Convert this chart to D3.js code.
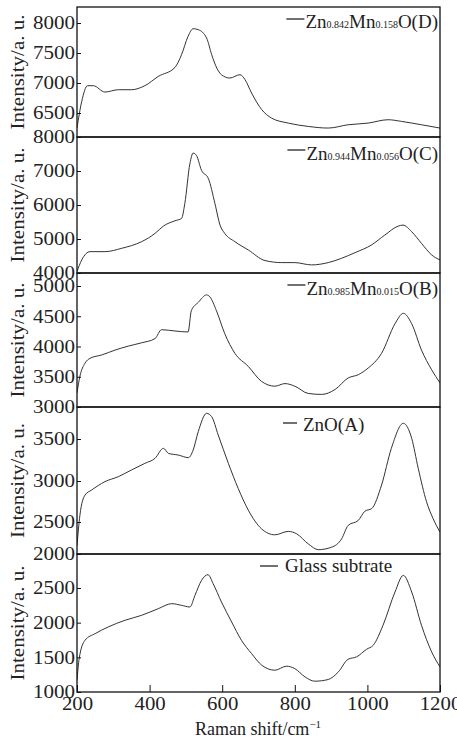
<!DOCTYPE html>
<html>
<head>
<meta charset="utf-8">
<script src="https://cdn.jsdelivr.net/npm/d3@7"></script>
<style>
  body { margin: 0; background: #fff; }
</style>
</head>
<body>
<svg id="chart" width="457" height="743"></svg>
<script>
// Raman shift (cm-1) and intensity (a.u.)
const xD = [200,213,229,245,277,314,350,387,424,470,488,506,520,534,557,571,585,598,621,649,663,681,709,736,782,837,892,947,1002,1057,1094,1149,1200];
const yD = [6249,6693,6955,6955,6849,6888,6888,6955,7110,7260,7472,7778,7905,7889,7750,7472,7250,7138,7083,7138,7055,6832,6555,6415,6332,6276,6249,6304,6332,6388,6360,6304,6249];

const xC = [200,213,236,277,323,378,415,438,470,488,497,511,520,529,543,562,580,594,607,635,672,718,764,800,846,892,929,966,1011,1048,1085,1098,1122,1149,1177,1200];
const yC = [4043,4384,4628,4628,4726,4921,5165,5380,5536,5604,6043,7215,7527,7459,7020,6776,6043,5409,5165,4921,4677,4365,4306,4306,4238,4306,4433,4599,4823,5116,5380,5409,5214,4872,4531,4384];

const xB = [200,208,222,236,268,305,341,378,415,433,470,506,515,534,557,566,584,607,635,672,708,745,773,800,837,874,911,947,975,1002,1039,1076,1099,1122,1149,1177,1200];
const yB = [3235,3507,3724,3805,3860,3941,4006,4061,4131,4278,4256,4240,4593,4729,4853,4821,4593,4213,3887,3670,3425,3344,3387,3344,3224,3208,3290,3480,3534,3643,3887,4376,4549,4376,3941,3615,3398];

const xA = [200,208,222,240,277,314,350,387,415,438,452,479,507,520,534,557,571,589,617,644,672,708,745,782,805,837,865,901,929,947,975,993,1012,1039,1066,1099,1122,1140,1163,1181,1200];
const yA = [2132,2582,2828,2889,2992,3052,3131,3210,3270,3389,3329,3309,3278,3369,3587,3806,3766,3548,3210,2910,2644,2395,2300,2353,2316,2158,2068,2105,2237,2447,2520,2631,2664,2951,3389,3687,3508,3151,2746,2541,2342];

const xG = [200,206,222,250,286,332,378,424,461,488,511,525,543,561,575,598,626,653,681,709,745,777,800,828,855,892,920,947,970,998,1016,1043,1076,1099,1122,1149,1177,1200];
const yG = [1170,1482,1746,1842,1938,2034,2106,2202,2274,2250,2226,2394,2610,2692,2562,2298,2010,1746,1554,1386,1314,1372,1338,1218,1156,1180,1290,1473,1506,1617,1674,1962,2442,2682,2442,1962,1578,1362];

const xTicks = [200, 400, 600, 800, 1000, 1200];
const ticksD = [6500, 7000, 7500, 8000];
const ticksC = [4000, 5000, 6000, 7000, 8000];
const ticksB = [3000, 3500, 4000, 4500, 5000];
const ticksA = [2000, 2500, 3000, 3500];
const ticksG = [1000, 1500, 2000, 2500];

const serif = '"Liberation Serif"';
const svg = d3.select("#chart");
const left = 77, right = 440;

const x = d3.scaleLinear().domain([200, 1200]).range([left, right]);

// panel boundaries and y-scales (each panel has its own intensity axis)
const panels = [
  { xs: xD, ys: yD, ticks: ticksD, top: 7, bottom: 137,
    y: d3.scaleLinear().domain([6500, 8000]).range([113, 23]),
    label: [["Zn"], ["0.842", true], ["Mn"], ["0.158", true], ["O(D)"]], lineY: 19, textY: 28 },
  { xs: xC, ys: yC, ticks: ticksC, top: 137, bottom: 273,
    y: d3.scaleLinear().domain([4000, 8000]).range([273, 137]),
    label: [["Zn"], ["0.944", true], ["Mn"], ["0.056", true], ["O(C)"]], lineY: 150, textY: 160 },
  { xs: xB, ys: yB, ticks: ticksB, top: 273, bottom: 407,
    y: d3.scaleLinear().domain([3000, 5000]).range([407, 286]),
    label: [["Zn"], ["0.985", true], ["Mn"], ["0.015", true], ["O(B)"]], lineY: 285, textY: 295 },
  { xs: xA, ys: yA, ticks: ticksA, top: 407, bottom: 554,
    y: d3.scaleLinear().domain([2000, 2500, 3000, 3500]).range([554, 522, 481, 439]),
    label: [["ZnO(A)"]], lineY: 423, textY: 431, textX: 303, lineX: [283, 297] },
  { xs: xG, ys: yG, ticks: ticksG, top: 554, bottom: 692,
    y: d3.scaleLinear().domain([1000, 2500]).range([692, 588]),
    label: [["Glass subtrate"]], lineY: 566, textY: 572, textX: 285, lineX: [260, 278] }
];

panels.forEach((p, i) => {
  const g = svg.append("g");

  g.append("clipPath").attr("id", "clip" + i)
    .append("rect")
    .attr("x", left).attr("y", p.top)
    .attr("width", right - left).attr("height", p.bottom - p.top);

  const pts = p.xs.map((v, k) => ({ shift: v, inten: p.ys[k] }));
  const line = d3.line()
    .curve(d3.curveMonotoneX)
    .x(d => x(d.shift))
    .y(d => p.y(d.inten));

  g.append("path")
    .datum(pts)
    .attr("clip-path", `url(#clip${i})`)
    .attr("fill", "none")
    .attr("stroke", "#333")
    .attr("stroke-width", 1)
    .attr("stroke-linejoin", "round")
    .attr("d", line);

  // left axis
  const ax = g.append("g")
    .attr("transform", `translate(${left},0)`)
    .call(d3.axisLeft(p.y).tickValues(p.ticks).tickFormat(d3.format("d"))
      .tickSize(-4).tickSizeOuter(0).tickPadding(2));
  ax.select(".domain").remove();
  ax.selectAll(".tick line").attr("stroke", "#111").attr("stroke-width", 1);
  ax.selectAll(".tick text")
    .style("font-family", serif)
    .attr("font-size", 18)
    .attr("textLength", 42)
    .attr("lengthAdjust", "spacingAndGlyphs")
    .attr("fill", "#222");

  // box
  g.append("rect")
    .attr("x", left).attr("y", p.top)
    .attr("width", right - left).attr("height", p.bottom - p.top)
    .attr("fill", "none").attr("stroke", "#111").attr("stroke-width", 1.3);

  // axis title
  svg.append("text")
    .attr("transform", `translate(24,${(p.top + p.bottom) / 2}) rotate(-90)`)
    .attr("text-anchor", "middle")
    .style("font-family", serif)
    .attr("font-size", 18)
    .attr("fill", "#222")
    .attr("textLength", 115)
    .attr("lengthAdjust", "spacingAndGlyphs")
    .text("Intensity/a. u.");

  // legend
  const t = svg.append("text")
    .attr("y", p.textY)
    .style("font-family", serif)
    .attr("fill", "#222")
    .attr("font-size", 19);
  if (p.textX) {
    t.attr("x", p.textX);
  } else {
    t.attr("x", 438).attr("text-anchor", "end");
  }
  p.label.forEach(([s, sub]) => {
    t.append("tspan")
      .attr("font-size", sub ? 10 : 19)
      .text(s);
  });
  let lx = p.lineX;
  if (!lx) {
    const bb = t.node().getBBox();
    lx = [bb.x - 19, bb.x - 1];
  }
  svg.append("line")
    .attr("x1", lx[0]).attr("x2", lx[1])
    .attr("y1", p.lineY).attr("y2", p.lineY)
    .attr("stroke", "#111").attr("stroke-width", 1.2);
});

// bottom x axis (ticks inward)
const xa = svg.append("g")
  .attr("transform", `translate(0,692)`)
  .call(d3.axisBottom(x).tickValues(xTicks).tickFormat(d3.format("d"))
    .tickSize(-7).tickSizeOuter(0).tickPadding(5));
xa.select(".domain").remove();
xa.selectAll(".tick line").attr("stroke", "#111");
xa.selectAll(".tick text")
  .style("font-family", serif)
  .attr("font-size", 18)
  .attr("textLength", d => String(d).length * 10.4)
  .attr("lengthAdjust", "spacingAndGlyphs")
  .attr("fill", "#222");

const xt = svg.append("text")
  .attr("x", 258).attr("y", 735)
  .attr("text-anchor", "middle")
  .style("font-family", serif)
  .attr("fill", "#222")
  .attr("font-size", 18);
xt.append("tspan").text("Raman shift/cm");
xt.append("tspan").attr("font-size", 11).attr("dy", -7).text("−1");
</script>
</body>
</html>
